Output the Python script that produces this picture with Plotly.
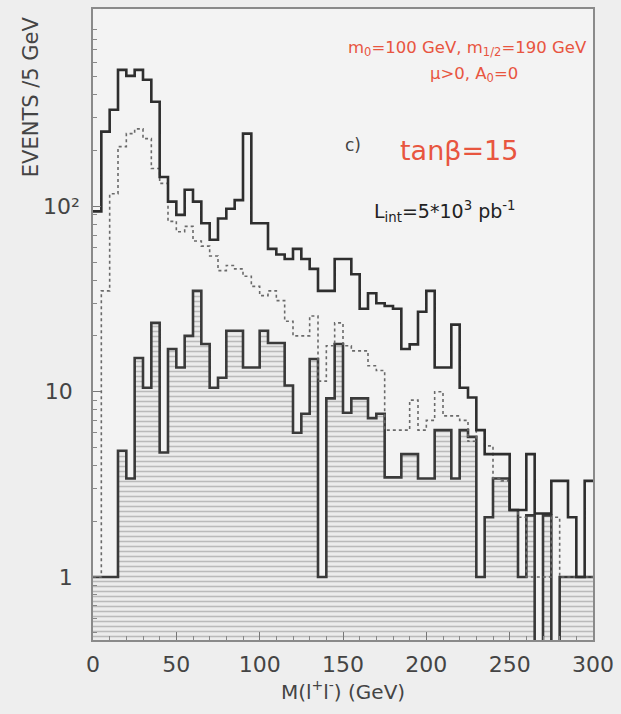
import plotly.graph_objects as go

# Bin edges (GeV), 5 GeV bins
bin_edges = list(range(0, 305, 5))

# Solid histogram (total)
total = [94, 253, 332, 545, 506, 545, 482, 367, 144, 106,
         90, 123, 106, 81, 66, 86, 97, 108, 247, 81,
         81, 59, 55, 52, 59, 52, 46, 35, 35, 52,
         52, 43, 28, 34, 30, 29, 28, 17, 18, 27,
         35, 13.5, 13.5, 23, 10.5, 9.3, 6.2, 4.6, 4.6, 4.6,
         2.3, 2.3, 4.6, 2.2, 2.2, 3.3, 3.3, 2.1, 1.0, 3.3]

# Dotted histogram
dotted = [1, 35, 117, 210, 247, 262, 232, 160, 133, 83,
          73, 78, 65, 61, 54, 45, 48, 46, 42, 37,
          33, 35, 31, 24, 20, 20, 25.6, 11.4, 17.7, 23.5,
          17.7, 16.6, 16.6, 13.8, 13, 6.2, 6.2, 6.2, 9, 6.2,
          7, 10, 7.4, 7.4, 7, 5.4, 6.2, 5.1, 3.4, 3.3,
          2.3, 2.1, 1, 1, 1, 2.1, 1, 1, 1, 1]

# Hatched histogram (0.1 = empty bin, below axis range)
hatched = [1, 1, 1, 4.8, 3.4, 15.2, 10.5, 23.5, 4.7, 17,
           13.5, 20, 35, 18.1, 10.5, 11.9, 21.3, 21.3, 13.5, 13.5,
           21.3, 18.3, 18.3, 10.8, 6.0, 7.6, 15, 1, 9.2, 18.1,
           7.7, 9.2, 9.2, 7.2, 7.6, 3.45, 3.45, 4.6, 4.6, 3.4,
           3.4, 6.2, 6.2, 3.4, 6.2, 5.7, 1, 2.1, 3.4, 3.4,
           2.3, 1, 2.15, 0.1, 2.15, 0.1, 1, 1, 1, 1]

empty_level = 0.1  # below the visible axis range

x_ticks = [0, 50, 100, 150, 200, 250, 300]
y_ticks = [1, 10, 100]
y_ticktext = ["1\u00a0\u00a0", "10\u00a0\u00a0", "10²\u00a0"]
y_minor_ticks = [m * d for d in (0.1, 1, 10, 100) for m in range(2, 10)]


def steps(vals):
    return bin_edges, list(vals) + [vals[-1]]


fig = go.Figure()

# baseline for the hatched fill
fig.add_trace(go.Scatter(
    x=[bin_edges[0], bin_edges[-1]], y=[empty_level, empty_level],
    mode="lines", line=dict(width=0, color="rgba(0,0,0,0)"),
    showlegend=False, hoverinfo="skip"))

hx, hy = steps(hatched)
fig.add_trace(go.Scatter(
    x=hx, y=hy, mode="lines", line_shape="hv",
    line=dict(color="#3a3a3a", width=2.6),
    fill="tonexty", fillcolor="rgba(0,0,0,0)",
    fillpattern=dict(shape="-", size=5, solidity=0.32,
                     fgcolor="#888888", bgcolor="#ececec"),
    showlegend=False, hoverinfo="skip"))

dx, dy = steps(dotted)
fig.add_trace(go.Scatter(
    x=dx, y=dy, mode="lines", line_shape="hv",
    line=dict(color="#6a6a6a", width=1.6, dash="dot"),
    showlegend=False, hoverinfo="skip"))

tx, ty = steps(total)
fig.add_trace(go.Scatter(
    x=tx, y=ty, mode="lines", line_shape="hv",
    line=dict(color="#2e2e2e", width=2.6),
    showlegend=False, hoverinfo="skip"))

font_main = "DejaVu Sans"
red = "#e8553f"

fig.update_layout(
    width=621, height=714,
    margin=dict(l=93, r=24, t=7, b=74),
    paper_bgcolor="#eeeeee",
    plot_bgcolor="#f3f3f3",
    font=dict(family=font_main, color="#444444"),
    xaxis=dict(
        range=[0, 300], tickvals=x_ticks,
        tickfont=dict(size=22, color="#444444"),
        ticklabelstandoff=4,
        showgrid=False, zeroline=False,
        showline=True, mirror=True, linecolor="#8a8a8a", linewidth=1.5,
        ticks="inside", ticklen=8, tickcolor="#777777",
        minor=dict(dtick=10, ticks="inside", ticklen=4, tickcolor="#888888"),
        title=dict(text="M(l<sup>+</sup>l<sup>-</sup>) (GeV)",
                   font=dict(size=20, color="#444444"), standoff=8),
    ),
    yaxis=dict(
        type="log", range=[-0.34, 3.065],
        tickvals=y_ticks, ticktext=y_ticktext,
        tickfont=dict(size=22, color="#444444"),
        showgrid=False, zeroline=False,
        showline=True, mirror=True, linecolor="#8a8a8a", linewidth=1.5,
        ticks="inside", ticklen=8, tickcolor="#777777",
        minor=dict(tickvals=y_minor_ticks, ticks="inside", ticklen=4,
                   tickcolor="#888888", showgrid=False),
    ),
)

annotations = [
    dict(text="EVENTS /5 GeV", x=-0.125, y=0.861, xref="paper", yref="paper",
         xanchor="center", yanchor="middle", textangle=-90, showarrow=False,
         font=dict(size=21, color="#444444")),
    dict(text="m<sub>0</sub>=100 GeV, m<sub>1/2</sub>=190 GeV",
         x=0.748, y=0.937, xref="paper", yref="paper", xanchor="center",
         yanchor="middle", showarrow=False, font=dict(size=16.5, color=red)),
    dict(text="μ&gt;0, A<sub>0</sub>=0",
         x=0.762, y=0.896, xref="paper", yref="paper", xanchor="center",
         yanchor="middle", showarrow=False, font=dict(size=16.5, color=red)),
    dict(text="c)", x=0.52, y=0.785, xref="paper", yref="paper",
         xanchor="center", yanchor="middle", showarrow=False,
         font=dict(size=17, color="#444444")),
    dict(text="tanβ=15", x=0.732, y=0.776, xref="paper", yref="paper",
         xanchor="center", yanchor="middle", showarrow=False,
         font=dict(size=27, color=red)),
    dict(text="L<sub>int</sub>=5*10<sup>3</sup> pb<sup>-1</sup>",
         x=0.704, y=0.679, xref="paper", yref="paper", xanchor="center",
         yanchor="middle", showarrow=False, font=dict(size=19, color="#222222")),
]
fig.update_layout(annotations=annotations)

fig.write_html("out.html")
